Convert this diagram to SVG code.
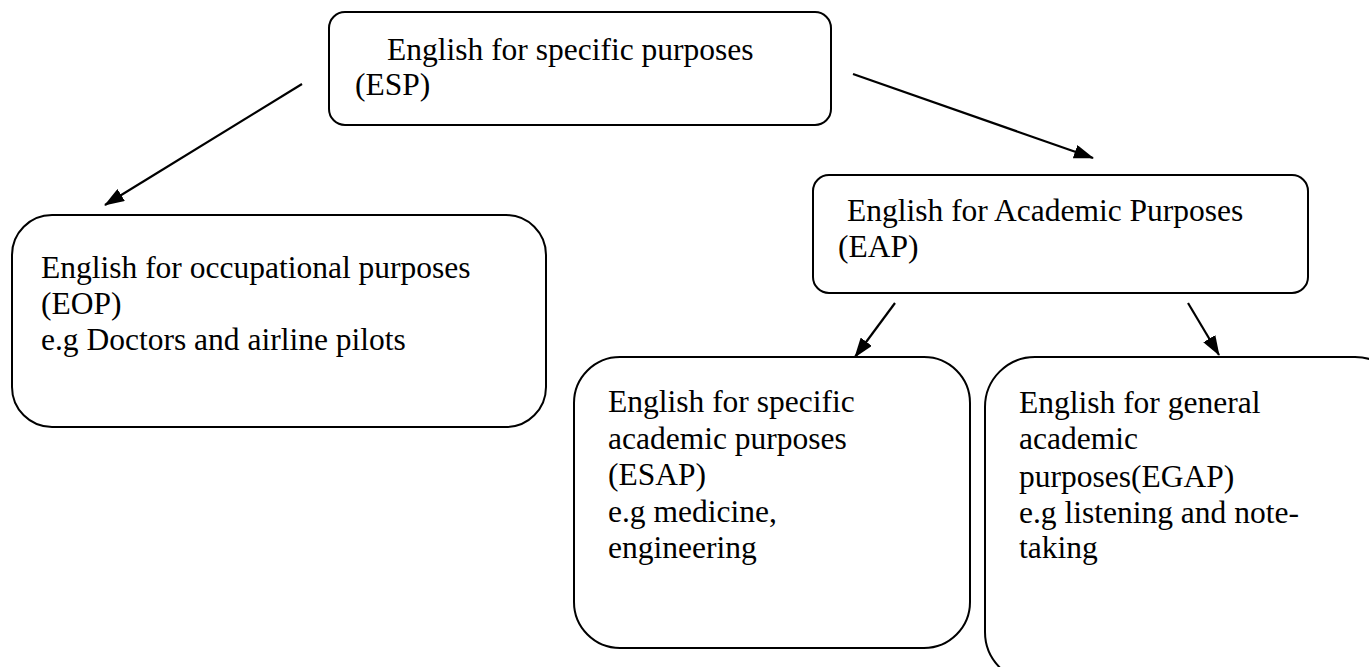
<svg xmlns="http://www.w3.org/2000/svg" width="1369" height="667" viewBox="0 0 1369 667">
  <style>
    .box { fill: #ffffff; stroke: #000000; stroke-width: 2; }
    .label { font-family: "Liberation Serif", "Times New Roman", serif; font-size: 31.5px; fill: #000000; }
    .link { stroke: #000000; stroke-width: 2.2; fill: none; marker-end: url(#head); }
  </style>
  <defs>
    <!-- solid triangular arrowhead, tip at the end of the line -->
    <marker id="head" viewBox="0 0 20 14" refX="19" refY="7" markerWidth="20" markerHeight="14" markerUnits="userSpaceOnUse" orient="auto">
      <path d="M0,0 L20,7 L0,14 Z" fill="#000000"/>
    </marker>
  </defs>
  <rect width="1369" height="667" fill="#ffffff"/>

  <g id="esp">
    <rect class="box" x="329" y="12" width="502" height="113" rx="16" ry="16"/>
    <text class="label" x="387" y="60">English for specific purposes</text>
    <text class="label" x="355" y="95">(ESP)</text>
  </g>

  <g id="eop">
    <rect class="box" x="12" y="215" width="534" height="212" rx="40" ry="40"/>
    <text class="label" x="41" y="278">English for occupational purposes</text>
    <text class="label" x="41" y="314">(EOP)</text>
    <text class="label" x="41" y="350">e.g  Doctors and airline pilots</text>
  </g>

  <g id="eap">
    <rect class="box" x="813" y="175" width="495" height="118" rx="16" ry="16"/>
    <text class="label" x="847" y="221">English for Academic Purposes</text>
    <text class="label" x="838" y="257">(EAP)</text>
  </g>

  <g id="esap">
    <rect class="box" x="574" y="357" width="396" height="291" rx="46" ry="46"/>
    <text class="label" x="608" y="412">English for specific</text>
    <text class="label" x="608" y="449">academic purposes</text>
    <text class="label" x="608" y="485">(ESAP)</text>
    <text class="label" x="608" y="522">e.g medicine,</text>
    <text class="label" x="608" y="558">engineering</text>
  </g>

  <g id="egap">
    <rect class="box" x="985" y="357" width="420" height="325" rx="50" ry="50"/>
    <text class="label" x="1019" y="413">English for general</text>
    <text class="label" x="1019" y="449">academic</text>
    <text class="label" x="1019" y="487">purposes(EGAP)</text>
    <text class="label" x="1019" y="523">e.g listening and note-</text>
    <text class="label" x="1019" y="558">taking</text>
  </g>

  <g id="connectors">
    <line class="link" x1="302" y1="84" x2="105" y2="205"/>
    <line class="link" x1="853" y1="74" x2="1093" y2="158"/>
    <line class="link" x1="895" y1="303" x2="855" y2="357"/>
    <line class="link" x1="1188" y1="303" x2="1219" y2="355"/>
  </g>
</svg>
